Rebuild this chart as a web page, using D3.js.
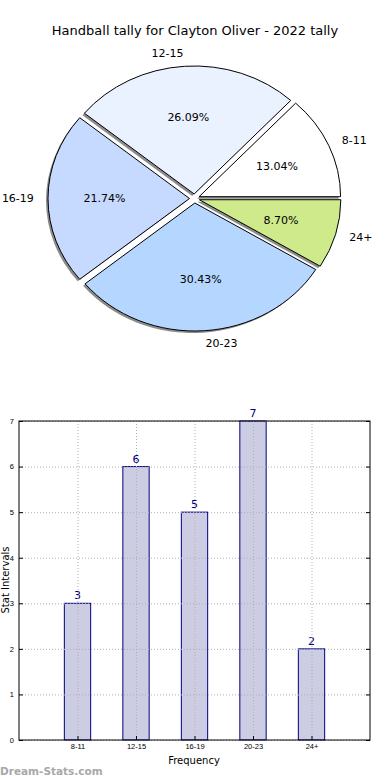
<!DOCTYPE html>
<html>
<head>
<meta charset="utf-8">
<script src="https://cdn.jsdelivr.net/npm/d3@7"></script>
<style>
  body { margin: 0; background: #fff; }
  svg { display: block; font-family: "DejaVu Sans", sans-serif; }
</style>
</head>
<body>
<div id="chart"></div>
<script>
// data
const categories = ["8-11", "12-15", "16-19", "20-23", "24+"];
const tallies = [3, 6, 5, 7, 2];
const sliceColors = ["#ffffff", "#eaf2ff", "#c6d9ff", "#b4d6ff", "#cfea8b"];
const yTicks = [0, 1, 2, 3, 4, 5, 6, 7];

const width = 390;
const height = 780;

const svg = d3.select("#chart")
    .append("svg")
    .attr("width", width)
    .attr("height", height);

// Title
svg.append("text")
    .attr("x", 195)
    .attr("y", 35)
    .attr("text-anchor", "middle")
    .attr("font-size", 13)
    .attr("fill", "#000")
    .text("Handball tally for Clayton Oliver - 2022 tally");

// Pie (matplotlib style: start at 3 o'clock, counter-clockwise, stretched)
const cx = 194.5, cy = 198.5;
const rx = 141.5, ry = 128;
const sy = ry / rx;
const explode = 5;

const pie = d3.pie()
    .sort(null)
    .startAngle(Math.PI / 2)
    .endAngle(Math.PI / 2 - 2 * Math.PI);

const arcs = pie(tallies);
const total = d3.sum(tallies);

const arc = d3.arc().innerRadius(0).outerRadius(rx);
const pctArc = d3.arc().innerRadius(rx * 0.6).outerRadius(rx * 0.6);
const lblArc = d3.arc().innerRadius(rx * 1.1).outerRadius(rx * 1.1);

function midDir(d) {
    const a = (d.startAngle + d.endAngle) / 2;
    return [Math.sin(a), -Math.cos(a)];
}

const pieG = svg.append("g");

// shadows first
arcs.forEach(d => {
    const [dx, dy] = midDir(d);
    pieG.append("g")
        .attr("transform", `translate(${cx + dx * explode - 2},${cy + dy * explode * sy + 2}) scale(1,${sy})`)
        .append("path")
        .attr("d", arc(d))
        .attr("fill", "#000")
        .attr("fill-opacity", 0.45)
        .attr("stroke", "none");
});

arcs.forEach((d, i) => {
    const [dx, dy] = midDir(d);
    const ox = cx + dx * explode;
    const oy = cy + dy * explode * sy;
    pieG.append("g")
        .attr("transform", `translate(${ox},${oy}) scale(1,${sy})`)
        .append("path")
        .attr("d", arc(d))
        .attr("fill", sliceColors[i])
        .attr("stroke", "#000")
        .attr("stroke-width", 1)
        .attr("vector-effect", "non-scaling-stroke");

    const [px, py] = pctArc.centroid(d);
    pieG.append("text")
        .attr("x", ox + px)
        .attr("y", oy + py * sy)
        .attr("text-anchor", "middle")
        .attr("dominant-baseline", "central")
        .attr("font-size", 11)
        .attr("fill", "#000")
        .text((d.value / total * 100).toFixed(2) + "%");

    const [lx, ly] = lblArc.centroid(d);
    pieG.append("text")
        .attr("x", ox + lx)
        .attr("y", oy + ly * sy)
        .attr("text-anchor", lx > 0 ? "start" : "end")
        .attr("dominant-baseline", "central")
        .attr("font-size", 11)
        .attr("fill", "#000")
        .text(categories[i]);
});

// Bar chart
const plot = { left: 19, right: 370, top: 421, bottom: 740 };

const x = d3.scaleLinear()
    .domain([0, categories.length + 1])
    .range([plot.left, plot.right]);

const y = d3.scaleLinear()
    .domain([0, 7])
    .range([plot.bottom, plot.top]);

const barW = x(0.45) - x(0);

const bars = svg.append("g");

bars.selectAll("rect")
    .data(tallies)
    .enter()
    .append("rect")
    .attr("x", (d, i) => x(i + 1) - barW / 2)
    .attr("y", d => y(d))
    .attr("width", barW)
    .attr("height", d => y(0) - y(d))
    .attr("fill", "#ccccE3")
    .attr("stroke", "#000080")
    .attr("stroke-width", 1);

// grid over bars
const grid = svg.append("g")
    .attr("stroke", "#b0b0b0")
    .attr("stroke-width", 1)
    .attr("stroke-dasharray", "1,2");

grid.selectAll(".hgrid")
    .data(yTicks)
    .enter()
    .append("line")
    .attr("x1", plot.left)
    .attr("x2", plot.right)
    .attr("y1", d => y(d) + 0.5)
    .attr("y2", d => y(d) + 0.5);

grid.selectAll(".vgrid")
    .data(categories)
    .enter()
    .append("line")
    .attr("x1", (d, i) => x(i + 1) + 0.5)
    .attr("x2", (d, i) => x(i + 1) + 0.5)
    .attr("y1", plot.top)
    .attr("y2", plot.bottom);

// value labels
bars.selectAll(".val")
    .data(tallies)
    .enter()
    .append("text")
    .attr("x", (d, i) => x(i + 1))
    .attr("y", d => y(d) - 4)
    .attr("text-anchor", "middle")
    .attr("font-size", 11)
    .attr("fill", "#000080")
    .text(d => d);

// axes
const yAxis = d3.axisLeft(y)
    .tickValues(yTicks)
    .tickFormat(d3.format("d"))
    .tickSize(-4)
    .tickPadding(5);

const xAxis = d3.axisBottom(x)
    .tickValues(d3.range(1, categories.length + 1))
    .tickFormat(d => categories[d - 1])
    .tickSize(-4)
    .tickPadding(4);

const gy = svg.append("g")
    .attr("transform", `translate(${plot.left},0)`)
    .call(yAxis);

const gx = svg.append("g")
    .attr("transform", `translate(0,${plot.bottom})`)
    .call(xAxis);

svg.append("g")
    .attr("transform", `translate(${plot.right},0)`)
    .call(d3.axisRight(y).tickValues(yTicks).tickSize(-4).tickFormat(""));

[gy, gx].forEach(g => {
    g.selectAll("text").attr("font-size", 7.5).attr("fill", "#000");
});
svg.selectAll(".tick line").attr("stroke", "#000");
svg.selectAll(".domain").remove();

// frame
svg.append("rect")
    .attr("x", plot.left)
    .attr("y", plot.top)
    .attr("width", plot.right - plot.left)
    .attr("height", plot.bottom - plot.top)
    .attr("fill", "none")
    .attr("stroke", "#000")
    .attr("stroke-width", 1);

// axis labels
svg.append("text")
    .attr("x", 194)
    .attr("y", 764)
    .attr("text-anchor", "middle")
    .attr("font-size", 10)
    .attr("fill", "#000")
    .text("Frequency");

svg.append("text")
    .attr("transform", "translate(9,580) rotate(-90)")
    .attr("text-anchor", "middle")
    .attr("font-size", 10)
    .attr("fill", "#000")
    .text("Stat Intervals");

// watermark
svg.append("text")
    .attr("x", 0)
    .attr("y", 775)
    .attr("font-size", 10.5)
    .attr("font-weight", "bold")
    .attr("fill", "#a8a8a8")
    .text("Dream-Stats.com");
</script>
</body>
</html>
